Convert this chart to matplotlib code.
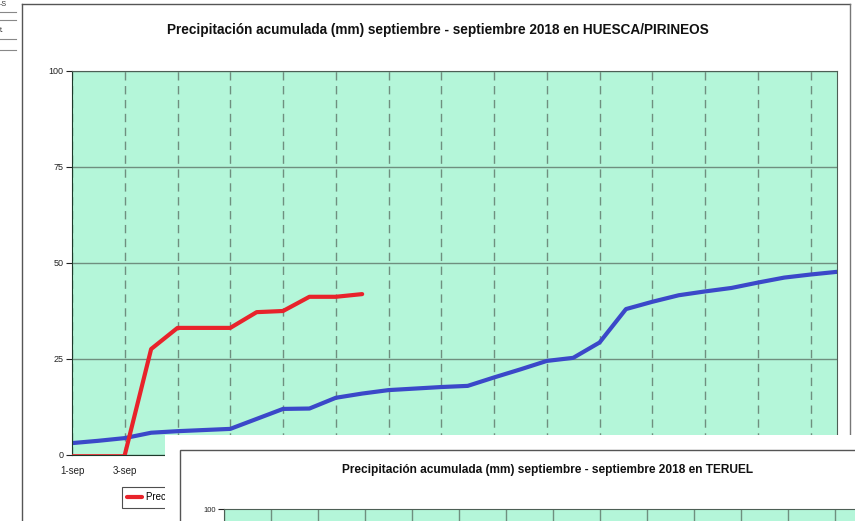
import numpy as np
import matplotlib.pyplot as plt
from matplotlib.lines import Line2D
from matplotlib.patches import Rectangle

plt.rcParams["font.family"] = ["Liberation Sans", "DejaVu Sans"]

############## DATA ##############
dias = np.arange(1, 31)
etiquetas = [str(d) + "-sep" for d in dias]

# precipitacion acumulada 2018 (mm), hasta el 12-sep
prec_2018 = [0, 0, 0, 27.6, 33.1, 33.1, 33.1, 37.2, 37.5, 41.2, 41.2, 41.9]

# precipitacion media acumulada (mm)
prec_media = [3.1, 3.7, 4.4, 5.8, 6.2, 6.5, 6.8, 9.4, 12.0, 12.1,
              14.9, 16.0, 16.9, 17.3, 17.7, 18.0, 20.2, 22.3, 24.5, 25.3,
              29.3, 38.0, 39.9, 41.6, 42.6, 43.5, 44.9, 46.2, 47.0, 47.7]

titulo1 = "Precipitación acumulada (mm) septiembre - septiembre 2018 en HUESCA/PIRINEOS"
titulo2 = "Precipitación acumulada (mm) septiembre - septiembre 2018 en TERUEL"

verde = "#b4f6d9"
rejilla = "#6f8f7f"
rojo = "#e8232b"
azul = "#3b48c9"

############## FIGURA ##############
W, H = 855, 521
fig = plt.figure(figsize=(W / 100, H / 100), dpi=100)
fig.patch.set_facecolor("white")

# marco exterior del primer grafico
fig.add_artist(Line2D([22 / W, 22 / W], [0, 1 - 4 / H], color="#555555", lw=1))
fig.add_artist(Line2D([22 / W, 850 / W], [1 - 4 / H, 1 - 4 / H], color="#555555", lw=1))
fig.add_artist(Line2D([850 / W, 850 / W], [1 - 4 / H, 1 - 435 / H], color="#777777", lw=1))

# restos de la ventana de la izquierda
for yy in [12, 20, 39, 50]:
    fig.add_artist(Line2D([0, 16 / W], [1 - yy / H, 1 - yy / H], color="#888888", lw=0.8))
fig.text(0, 1 - 5 / H, "-S", fontsize=5, va="center", color="#333333")
fig.text(0, 1 - 30 / H, "t.", fontsize=5, va="center", color="#333333")

fig.text(438 / W, 1 - 30 / H, titulo1, ha="center", va="center",
         fontsize=9.8, fontweight="bold", color="#111111")

ax = fig.add_axes([72 / W, 66 / H, 765 / W, 384 / H])
ax.set_facecolor(verde)

# tramo a cero (queda casi tapado por el eje) y tramo con lluvia
n0 = 3
ax.plot(dias[:n0], prec_2018[:n0], color=rojo, lw=1.2, zorder=3)
ax.plot(dias[n0 - 1:len(prec_2018)], prec_2018[n0 - 1:], color=rojo, lw=3,
        solid_capstyle="round", label="Precipitación acumulada 2018", zorder=3)
ax.plot(dias, prec_media, color=azul, lw=3,
        solid_capstyle="round", label="Precipitación media acumulada", zorder=2)
ax.set_xlim(1, 30)
ax.set_ylim(0, 100)
ax.set_yticks([0, 25, 50, 75, 100])
ax.set_xticks(dias[::2])
ax.set_xticklabels(etiquetas[::2])
# solo se ven las dos primeras etiquetas, el resto queda bajo el otro grafico
for lab in ax.get_xticklabels()[2:]:
    lab.set_visible(False)
ax.tick_params(axis="y", labelsize=6.5, length=4, pad=2, colors="#222222")
ax.tick_params(axis="x", labelsize=7, length=0, pad=8, colors="#222222")
ax.yaxis.grid(True, color=rejilla, lw=1, linestyle="-")
ax.xaxis.grid(True, color=rejilla, lw=1, linestyle=(0, (6, 4)))
ax.set_axisbelow(True)
for s in ["left", "bottom"]:
    ax.spines[s].set_color("#1c3a2a")
for s in ["top", "right"]:
    ax.spines[s].set_color("#4d5f55")

leg = ax.legend(loc="upper left", bbox_to_anchor=(122 / W, 1 - 487 / H),
                bbox_transform=fig.transFigure, ncol=2, fontsize=7,
                frameon=True, fancybox=False, edgecolor="#222222",
                handlelength=1.5, handletextpad=0.4, borderpad=0.55,
                borderaxespad=0, columnspacing=1.5)
leg.get_frame().set_linewidth(0.8)

############## SEGUNDO GRAFICO (TERUEL) QUE TAPA AL PRIMERO ##############
fig.add_artist(Rectangle((165 / W, 0), 700 / W, 86 / H, transform=fig.transFigure,
                         facecolor="white", edgecolor="none", zorder=5))
fig.add_artist(Rectangle((180 / W, -0.05), 700 / W, 71 / H + 0.05, transform=fig.transFigure,
                         facecolor="white", edgecolor="#555555", lw=1, zorder=6))
fig.text(548 / W, 1 - 470 / H, titulo2, ha="center", va="center",
         fontsize=8.6, fontweight="bold", color="#111111", zorder=7)

ax2 = fig.add_axes([224 / W, -0.3, 682 / W, 0.3 + 12 / H])
ax2.set_zorder(8)
ax2.set_facecolor(verde)
ax2.set_xlim(1, 30)
ax2.set_ylim(0, 100)
ax2.set_xticks(dias[::2])
ax2.set_xticklabels([])
ax2.set_yticks([100])
ax2.tick_params(axis="y", labelsize=5.5, length=4, pad=2, colors="#222222")
ax2.tick_params(axis="x", length=0)
ax2.xaxis.grid(True, color=rejilla, lw=1, linestyle="-")
for s in ax2.spines.values():
    s.set_color("#4d5f55")

plt.savefig("out.png", dpi=100)
